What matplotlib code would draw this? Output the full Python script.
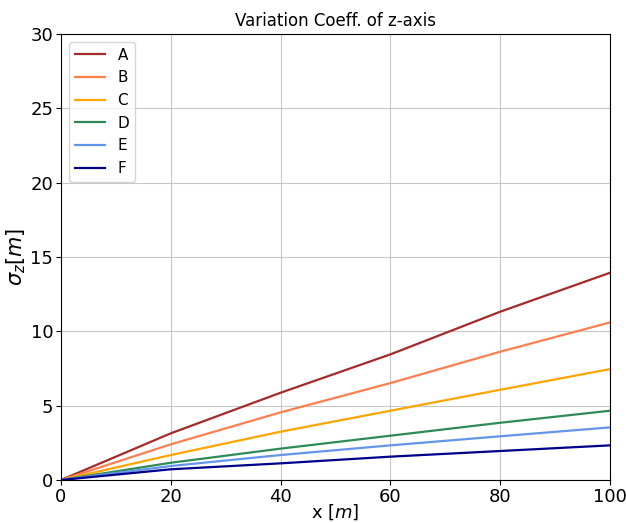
import numpy as np
import matplotlib
matplotlib.use("Agg")
import matplotlib.pyplot as plt

# sigma_z readings at x = 0, 20, 40, 60, 80, 100 m
x = [0, 20, 40, 60, 80, 100]
labels = ["A", "B", "C", "D", "E", "F"]
sigma_A = [0, 3.14, 5.87, 8.45, 11.32, 13.94]
sigma_B = [0, 2.40, 4.55, 6.52, 8.63, 10.60]
sigma_C = [0, 1.68, 3.25, 4.66, 6.07, 7.46]
sigma_D = [0, 1.16, 2.11, 2.98, 3.85, 4.66]
sigma_E = [0, 0.94, 1.68, 2.33, 2.94, 3.54]
sigma_F = [0, 0.72, 1.12, 1.57, 1.95, 2.33]

colors = ["brown", "coral", "orange", "seagreen", "cornflowerblue", "darkblue"]

fig = plt.figure(figsize=(6.26, 5.23), dpi=100)
ax = fig.add_axes([61/626, 43/523, 549/626, 446/523])

for s, lab, c in zip([sigma_A, sigma_B, sigma_C, sigma_D, sigma_E, sigma_F], labels, colors):
    ax.plot(x, s, color=c, label=lab, lw=1.6)

ax.set_xlim(0, 100)
ax.set_ylim(0, 30)
ax.grid(True, color="#c8c8c8", lw=0.8)
ax.tick_params(labelsize=13, pad=2)
ax.set_title("Variation Coeff. of z-axis", fontsize=12)
ax.set_xlabel("x [$m$]", fontsize=13, labelpad=-2)
ax.set_ylabel(r"$\sigma_z[m]$", fontsize=15, labelpad=2)
ax.legend(loc="upper left", fontsize=11)

fig.savefig("out.png", dpi=100)
